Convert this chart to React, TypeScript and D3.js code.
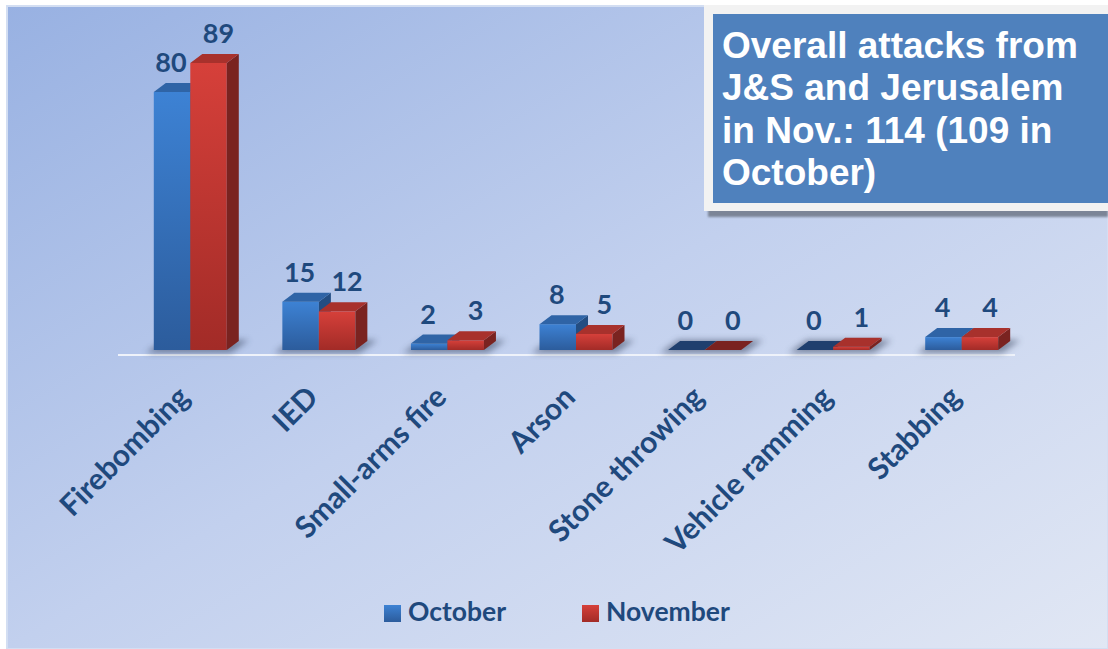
import React from "react";
import * as d3 from "d3";

const categories = ["Firebombing", "IED", "Small-arms fire", "Arson", "Stone throwing", "Vehicle ramming", "Stabbing"];
const series = ["October", "November"];
const octoberValues = [80, 15, 2, 8, 0, 0, 4];
const novemberValues = [89, 12, 3, 5, 0, 1, 4];
const titleLines = ["Overall attacks from", "J&S and Jerusalem", "in Nov.: 114 (109 in", "October)"];

const W = 1108;
const H = 649;
const DX = 12;
const DY = -9;
const LABEL = "#1f497d";
const FONT = "Lato, 'Open Sans', sans-serif";

const palettes = [
  { frontTop: "#3d82d4", frontBot: "#2c5c9c", top: "#2f64a6", side: "#234d82", flat: "#1f3f6e" },
  { frontTop: "#d6403a", frontBot: "#a22b27", top: "#a8312c", side: "#7a2320", flat: "#7a2220" },
];

export default function App() {
  const x0 = d3.scaleBand<string>().domain(categories).range([126, 1026]).padding(0);
  const bw = x0.bandwidth();
  const groupW = 73;
  const x1 = d3.scaleBand<string>().domain(series).range([(bw - groupW) / 2, (bw + groupW) / 2]).padding(0);
  const y = d3.scaleLinear().domain([0, 100]).range([350, 27.5]);
  const data = [octoberValues, novemberValues];

  const bars: React.ReactNode[] = [];
  const shadows: React.ReactNode[] = [];
  const labels: React.ReactNode[] = [];

  categories.forEach((c, ci) => {
    const gx = x0(c)!;
    const gl = gx + x1("October")!;
    const gr = gx + x1("November")! + x1.bandwidth();
    shadows.push(
      <path key={"sh" + ci}
        d={`M${gl - 8},${y(0) + 3} L${gr + 4},${y(0) + 3} L${gr + DX + 10},${y(0) + DY - 1} L${gl + DX - 2},${y(0) + DY - 1} Z`}
        fill="#3a4660" opacity={0.55} filter="url(#blur)" />
    );
    series.forEach((s, si) => {
      const v = data[si][ci];
      const p = palettes[si];
      const bx = gx + x1(s)!;
      const w = x1.bandwidth();
      const yb = y(0);
      let yt = y(v);
      if (v === 0) {
        bars.push(
          <path key={`f${ci}-${si}`}
            d={`M${bx},${yb} L${bx + w},${yb} L${bx + w + DX},${yb + DY} L${bx + DX},${yb + DY} Z`}
            fill={p.flat} />
        );
      } else {
        if (yb - yt < 3) yt = yb - 3;
        bars.push(
          <g key={`b${ci}-${si}`}>
            <rect x={bx} y={yt} width={w} height={yb - yt} fill={`url(#front${si})`} />
            <path d={`M${bx + w},${yt} L${bx + w + DX},${yt + DY} L${bx + w + DX},${yb + DY} L${bx + w},${yb} Z`} fill={p.side} />
            <path d={`M${bx},${yt} L${bx + w},${yt} L${bx + w + DX},${yt + DY} L${bx + DX},${yt + DY} Z`} fill={p.top} />
          </g>
        );
      }
      const lx = bx + w / 2 + (si === 0 ? -1 : 10);
      labels.push(
        <text key={`l${ci}-${si}`} x={lx} y={y(v) - 20} textAnchor="middle"
          fontFamily={FONT} fontWeight={700} fontSize={27} fill={LABEL}>{v}</text>
      );
    });
  });

  return (
    <svg width={W} height={H} style={{ position: "absolute", left: 0, top: 0 }}>
      <defs>
        <linearGradient id="bg" x1="0" y1="0" x2="1" y2="1">
          <stop offset="0" stopColor="#98b1e2" />
          <stop offset="0.5" stopColor="#c2d0ee" />
          <stop offset="1" stopColor="#e1e7f4" />
        </linearGradient>
        {palettes.map((p, i) => (
          <linearGradient key={i} id={`front${i}`} x1="0" y1="0" x2="0" y2="1">
            <stop offset="0" stopColor={p.frontTop} />
            <stop offset="1" stopColor={p.frontBot} />
          </linearGradient>
        ))}
        <filter id="blur" x="-20%" y="-100%" width="140%" height="300%">
          <feGaussianBlur stdDeviation="3" />
        </filter>
        <filter id="boxShadow" x="-5%" y="-5%" width="110%" height="115%">
          <feGaussianBlur stdDeviation="1.2" />
        </filter>
      </defs>
      <rect x={0} y={0} width={W} height={H} fill="#ffffff" />
      <rect x={7} y={6} width={W - 7} height={H - 6} fill="url(#bg)" stroke="#d3def2" strokeWidth={2} />

      <line x1={118} x2={1015} y1={355} y2={355} stroke="#eef2fa" strokeWidth={2} />
      {shadows}
      {bars}
      {labels}

      {categories.map((c) => {
        const cx = x0(c)! + bw / 2 + 1;
        const cy = 399;
        return (
          <text key={c} transform={`translate(${cx},${cy}) rotate(-45)`} textAnchor="end"
            fontFamily={FONT} fontWeight={700} fontSize={30} fill={LABEL}>{c}</text>
        );
      })}

      {series.map((s, i) => {
        const lx = i === 0 ? 384 : 582;
        return (
          <g key={s}>
            <rect x={lx} y={605} width={17} height={17} fill={`url(#front${i})`} />
            <text x={lx + 24} y={621} fontFamily={FONT} fontWeight={700} fontSize={26.5} fill={LABEL}>{s}</text>
          </g>
        );
      })}

      <rect x={708} y={12} width={400} height={205} fill="#7b8597" filter="url(#boxShadow)" />
      <rect x={704} y={5} width={404} height={206} fill="#f2f2f2" />
      <rect x={713} y={14} width={395} height={189} fill="#4f81bd" />
      {titleLines.map((t, i) => (
        <text key={i} x={722} y={58 + i * 42.3} fontFamily="'Liberation Sans', Arial, sans-serif"
          fontWeight={700} fontSize={37} fill="#ffffff">{t}</text>
      ))}
    </svg>
  );
}
